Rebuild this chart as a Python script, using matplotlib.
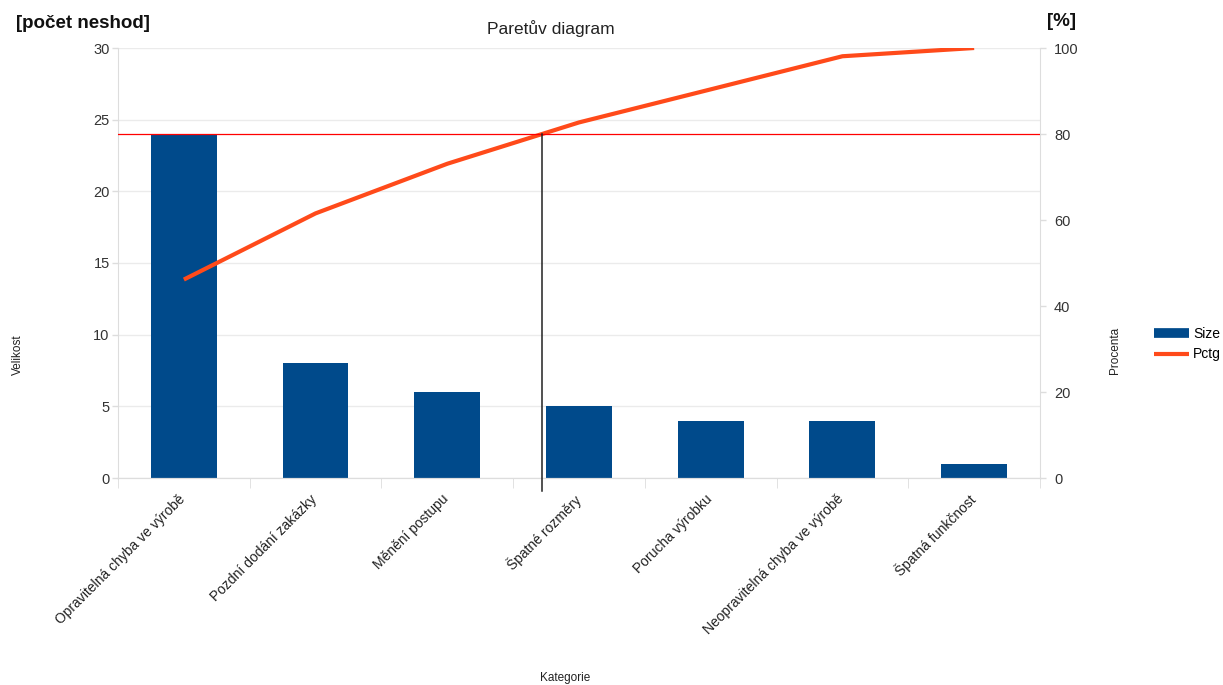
import numpy as np
import matplotlib
matplotlib.use("Agg")
import matplotlib.pyplot as plt
import matplotlib.transforms as mtransforms
from matplotlib.lines import Line2D

categories = ["Opravitelná chyba ve výrobě", "Pozdní dodání zakázky", "Měnění postupu",
              "Špatné rozměry", "Porucha výrobku", "Neopravitelná chyba ve výrobě",
              "Špatná funkčnost"]
sizes = [24, 8, 6, 5, 4, 4, 1]
pctg = [46.15, 61.54, 73.08, 82.69, 90.38, 98.08, 100.0]
threshold = 80

plt.rcParams['font.family'] = ['Liberation Sans', 'DejaVu Sans']

fig = plt.figure(figsize=(12.23, 6.85), dpi=100)
ax = fig.add_axes([118/1223, 1-478/685, (1040-118)/1223, (478-48)/685])
ax2 = ax.twinx()

x = np.arange(len(categories))
grid_c = '#dddddd'
ax.set_ylim(0, 30)
ax.set_xlim(-0.5, len(categories) - 0.5)
ax.set_yticks(np.arange(0, 31, 5))
ax.yaxis.grid(True, color='#ebebeb', lw=1)
ax.set_axisbelow(True)
ax.bar(x, sizes, width=0.5, color='#004a8b', zorder=2)

ax2.set_ylim(0, 100)
ax2.set_yticks(np.arange(0, 101, 20))
ax2.plot(x, pctg, color='#ff4a1a', lw=3, zorder=3, solid_capstyle='butt')
ax2.axhline(threshold, color='#ff0000', lw=0.9, zorder=4)

# crossing point of cumulative line with threshold
i = next(k for k in range(len(pctg)) if pctg[k] >= threshold)
xc = x[i-1] + (threshold - pctg[i-1]) / (pctg[i] - pctg[i-1])
ax2.plot([xc, xc], [threshold, -3], color='#222222', lw=1.1, clip_on=False, zorder=5)

for a in (ax, ax2):
    a.spines['top'].set_visible(False)
    a.spines['left'].set_color(grid_c)
    a.spines['right'].set_color(grid_c)
    a.spines['bottom'].set_color(grid_c)
    a.tick_params(axis='y', colors='#333333', labelsize=10.5, length=4, width=1, pad=2)
ax.tick_params(axis='y', color=grid_c)
ax2.tick_params(axis='y', color=grid_c, pad=6)
ax.spines['right'].set_visible(False)
ax2.spines['left'].set_visible(False)

ax.set_xticks(x)
ax.set_xticklabels(categories, rotation=45, ha='right', rotation_mode='anchor',
                   fontsize=10, color='#222222')
ax.tick_params(axis='x', length=0, pad=10)
offset = mtransforms.ScaledTranslation(-6/100, 0, fig.dpi_scale_trans)
for lab in ax.get_xticklabels():
    lab.set_transform(lab.get_transform() + offset)
ax.set_xticks(np.arange(-0.5, len(categories) + 0.5, 1), minor=True)
ax.tick_params(axis='x', which='minor', length=7, color=grid_c)

fig.text(551/1223, 1-29/685, "Paretův diagram", fontsize=12.5, color='#222222', ha='center', va='center')
fig.text(18/1223, 1-355/685, "Velikost", rotation=90, fontsize=8.5, ha='center', va='center', color='#222222')
fig.text(1115/1223, 1-350/685, "Procenta", rotation=90, fontsize=8.5, ha='center', va='center', color='#222222')
fig.text(565/1223, 1-678/685, "Kategorie", fontsize=8.5, ha='center', va='center', color='#222222')
fig.text(16/1223, 1-24/685, "[počet neshod]", fontsize=13.5, fontweight='bold', ha='left', va='center', color='#111111')
fig.text(1062/1223, 1-22/685, "[%]", fontsize=13.5, fontweight='bold', ha='center', va='center', color='#111111')

handles = [Line2D([0], [0], color='#004a8b', lw=7, solid_capstyle='butt'),
           Line2D([0], [0], color='#ff4a1a', lw=3, solid_capstyle='butt')]
fig.legend(handles, ['Size', 'Pctg'], loc='center left', bbox_to_anchor=(1147/1223, 1-344/685),
           frameon=False, fontsize=10, handlelength=2.5, handletextpad=0.3, labelspacing=0.5,
           borderpad=0)

fig.savefig("out.png", dpi=100)
